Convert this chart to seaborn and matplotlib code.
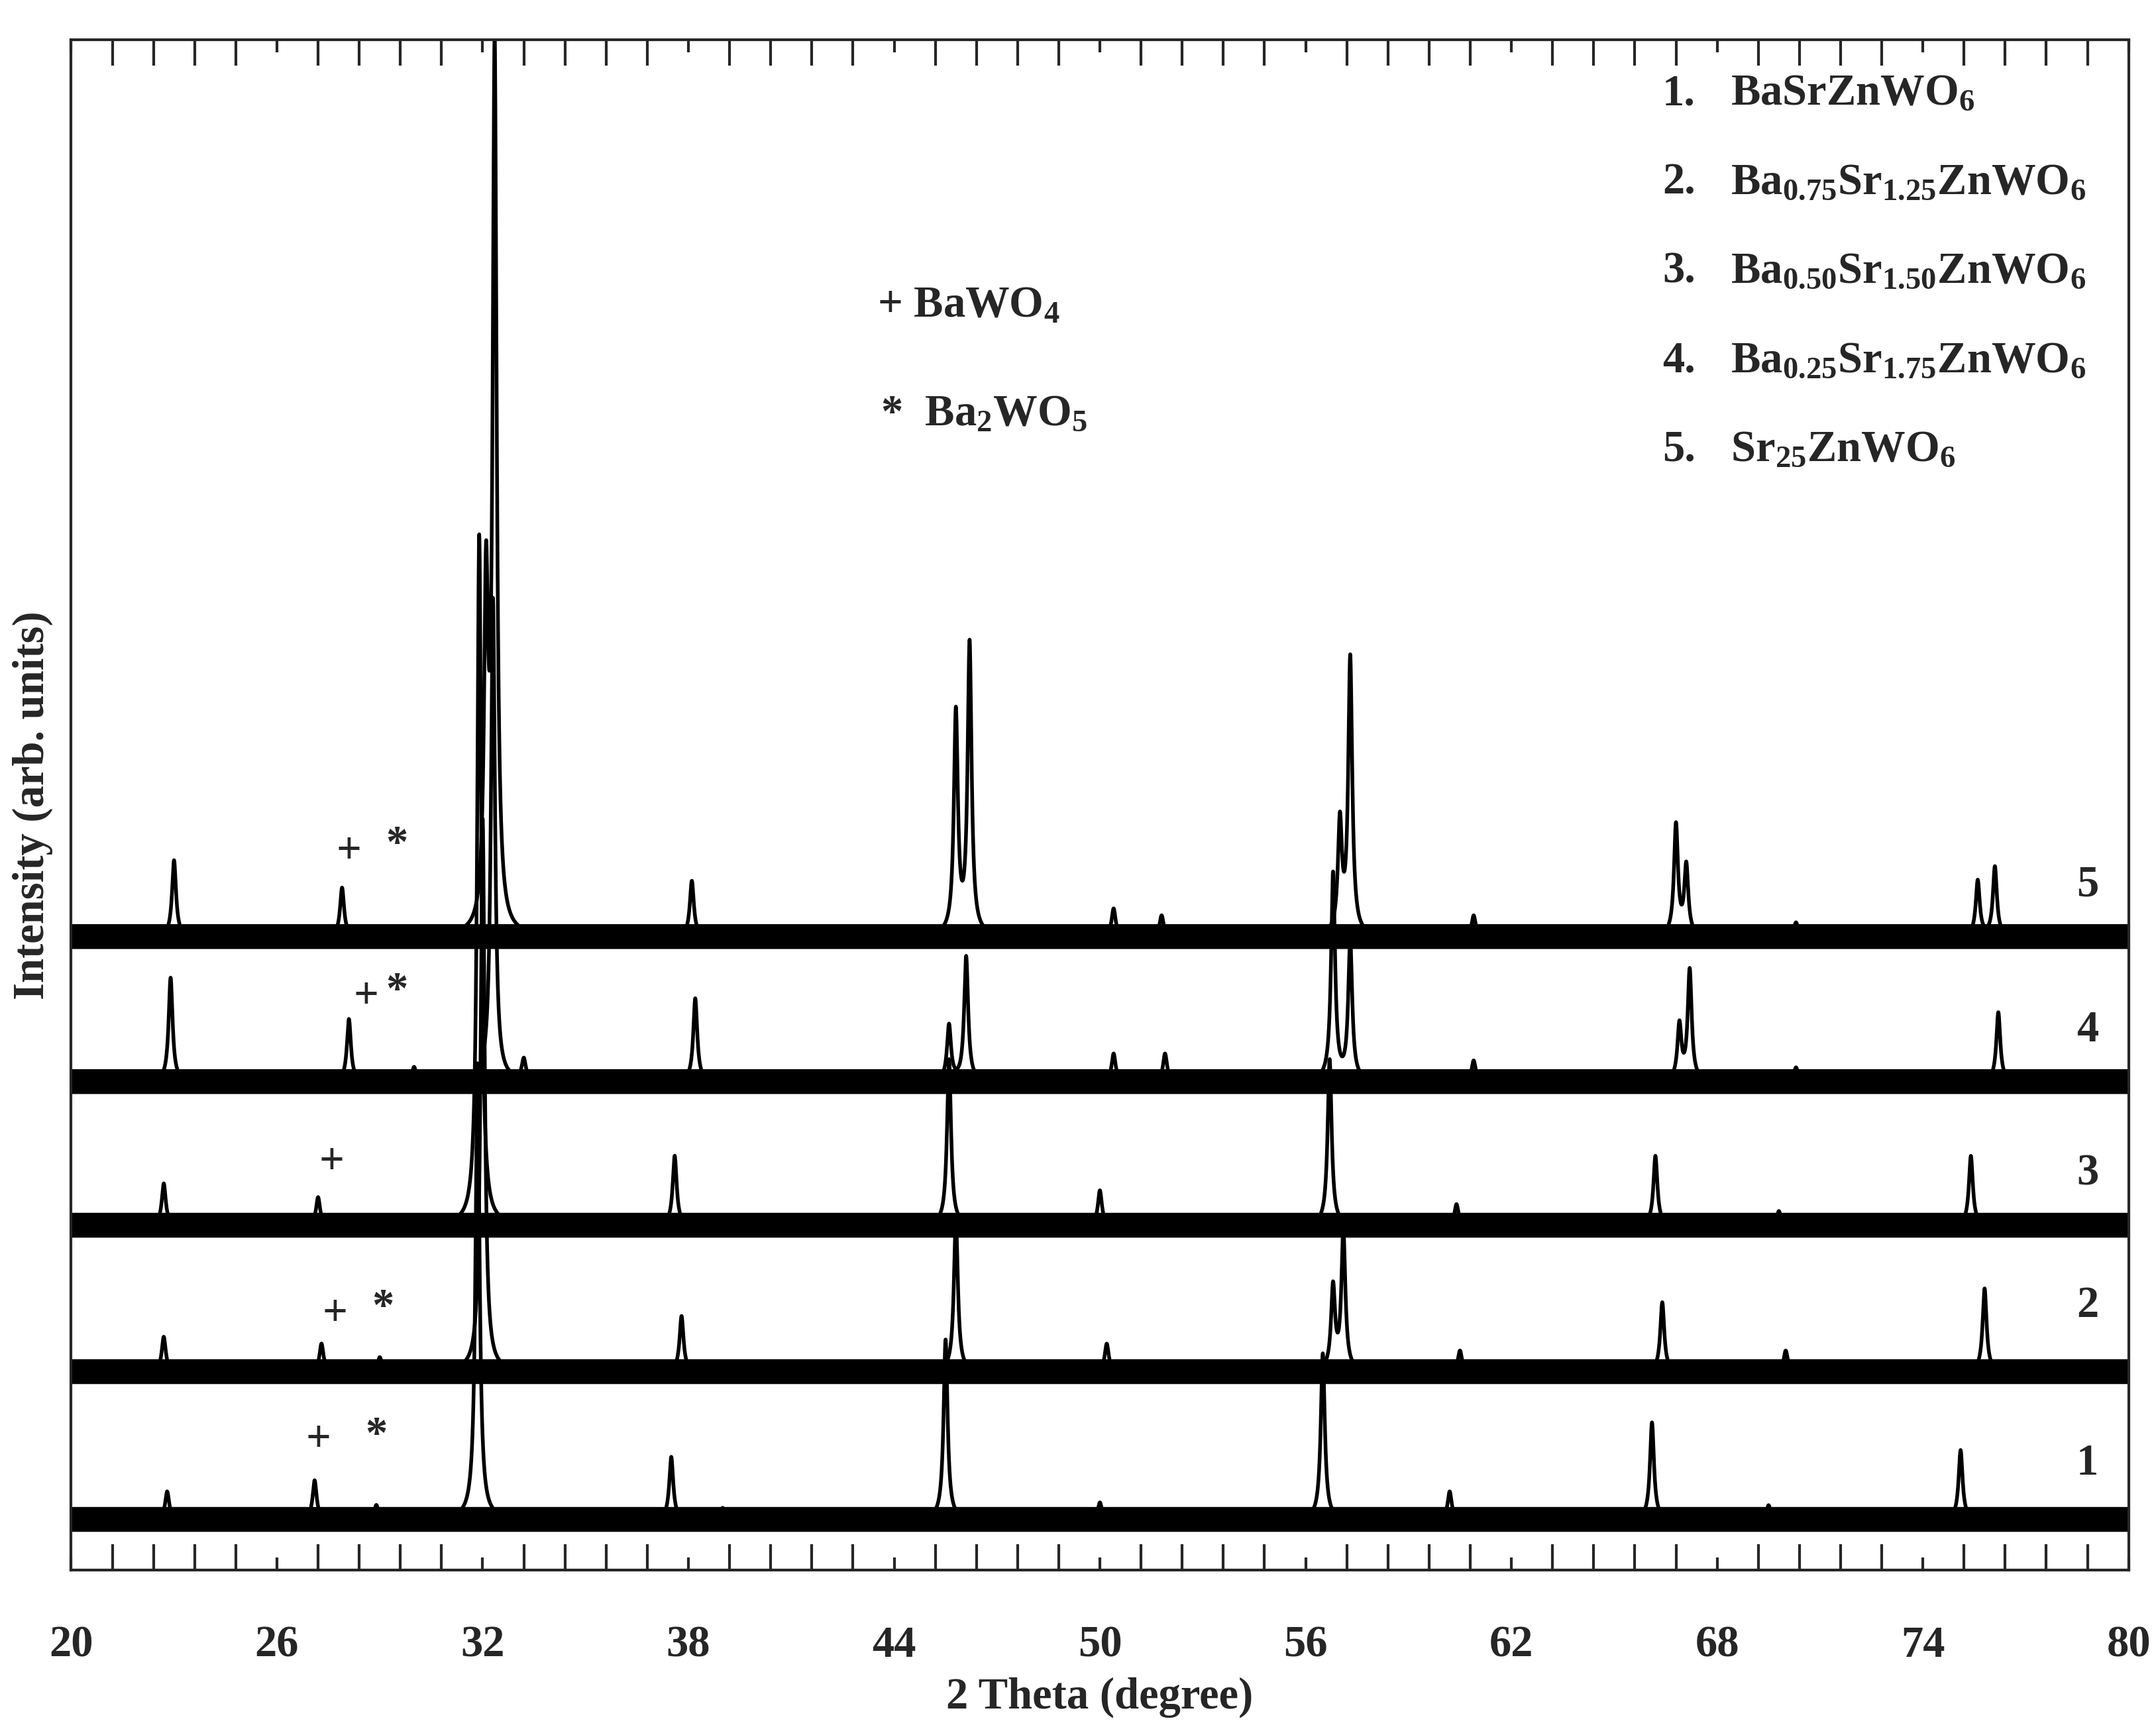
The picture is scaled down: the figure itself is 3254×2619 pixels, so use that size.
import numpy as np
import pandas as pd
import matplotlib
matplotlib.use('Agg')
import matplotlib.pyplot as plt
import seaborn as sns

# peak positions (2theta) and heights above each baseline
baselines = [37, 144, 250, 354, 459]
pos1 = [22.8, 27.1, 28.9, 31.85, 37.5, 39.0, 45.5, 50.0, 56.5, 60.2, 66.1, 69.5, 75.1]
hgt1 = [20, 28, 10, 330, 45, 8, 130, 12, 120, 20, 70, 10, 50]
pos2 = [22.7, 27.3, 29.0, 32.0, 37.8, 45.8, 50.2, 56.8, 57.1, 60.5, 66.4, 70.0, 75.8]
hgt2 = [25, 20, 10, 400, 40, 110, 20, 60, 100, 15, 50, 15, 60]
pos3 = [22.7, 27.2, 31.9, 37.6, 45.6, 50.0, 56.7, 60.4, 66.2, 69.8, 75.4]
hgt3 = [30, 20, 500, 50, 120, 25, 120, 15, 50, 10, 50]
pos4 = [22.9, 28.1, 30.0, 32.3, 33.2, 38.2, 45.6, 46.1, 50.4, 51.9, 56.8, 57.3, 60.9, 66.9, 67.2, 70.3, 76.2]
hgt4 = [75, 45, 10, 350, 15, 60, 40, 90, 20, 20, 150, 100, 15, 40, 80, 10, 50]
pos5 = [23.0, 27.9, 32.1, 32.35, 38.1, 45.8, 46.2, 50.4, 51.8, 57.0, 57.3, 60.9, 66.8, 67.1, 70.3, 75.6, 76.1]
hgt5 = [55, 35, 240, 636, 40, 160, 210, 20, 15, 80, 200, 15, 80, 50, 10, 40, 50]
positions = [pos1, pos2, pos3, pos4, pos5]
heights = [hgt1, hgt2, hgt3, hgt4, hgt5]

legend_labels = [r'BaSrZnWO$_6$', r'Ba$_{0.75}$Sr$_{1.25}$ZnWO$_6$',
                 r'Ba$_{0.50}$Sr$_{1.50}$ZnWO$_6$', r'Ba$_{0.25}$Sr$_{1.75}$ZnWO$_6$',
                 r'Sr$_{25}$ZnWO$_6$']
# impurity markers per curve: (symbol, 2theta, y)
marks = [('+', 27.2, 94), ('*', 28.9, 97), ('+', 27.7, 185), ('*', 29.1, 190),
         ('+', 27.6, 295), ('+', 28.6, 415), ('*', 29.5, 419),
         ('+', 28.1, 520), ('*', 29.5, 525)]

sns.set_theme(style='ticks')
plt.rcParams['font.family'] = ['Liberation Serif', 'DejaVu Serif']
plt.rcParams['font.weight'] = 'bold'
plt.rcParams['mathtext.fontset'] = 'custom'
plt.rcParams['mathtext.rm'] = 'Liberation Serif:bold'
plt.rcParams['mathtext.it'] = 'Liberation Serif:bold'
plt.rcParams['mathtext.bf'] = 'Liberation Serif:bold'

x = np.linspace(20, 80, 12001)
rows = []
for i in range(5):
    y = np.full_like(x, float(baselines[i]))
    for p, h in zip(positions[i], heights[i]):
        y += h / (1 + ((x - p) / 0.07) ** 2)
    rows.append(pd.DataFrame({'theta': x, 'I': y, 'sample': str(i + 1)}))
df = pd.concat(rows)

fig = plt.figure(figsize=(32.55, 26.19), dpi=100)
ax = fig.add_axes([0.033, 0.095, 0.954, 0.882])
for i in range(5):
    ax.fill_between(x, baselines[i] - 9, baselines[i] + 9, color='black', lw=0)
sns.lineplot(data=df, x='theta', y='I', units='sample', estimator=None,
             color='black', lw=4, ax=ax, legend=False)

ax.set_xlim(20, 80)
ax.set_ylim(0, 1108)
ax.set_xticks(np.arange(20, 81, 6))
ax.set_xticks(np.arange(20, 80.1, 1.2), minor=True)
ax.set_yticks([])
ax.tick_params(axis='x', which='major', direction='in', length=14, width=3,
               top=True, labelsize=48, pad=60)
ax.tick_params(axis='x', which='minor', direction='in', length=28, width=3, top=True)
for s in ax.spines.values():
    s.set_linewidth(3)
ax.set_xlabel('2 Theta (degree)', fontsize=48, fontweight='bold', labelpad=12)
ax.set_ylabel('Intensity (arb. units)', fontsize=48, fontweight='bold', labelpad=20)

for i, lab in enumerate(legend_labels):
    yy = 1069 - 64.5 * i
    ax.text(66.4, yy, f'{i + 1}.', fontsize=48, va='center')
    ax.text(68.4, yy, lab, fontsize=48, va='center')
for i, yy in enumerate([77, 191, 287, 391, 496]):
    ax.text(78.8, yy, str(i + 1), fontsize=48, va='center', ha='center')
ax.text(43.5, 915, r'+ BaWO$_4$', fontsize=48, va='center')
ax.text(43.6, 837, r'*  Ba$_2$WO$_5$', fontsize=48, va='center')
for sym, mx, my in marks:
    ax.text(mx, my, sym, fontsize=48, ha='center', va='center')

fig.savefig('out.png', dpi=100)
